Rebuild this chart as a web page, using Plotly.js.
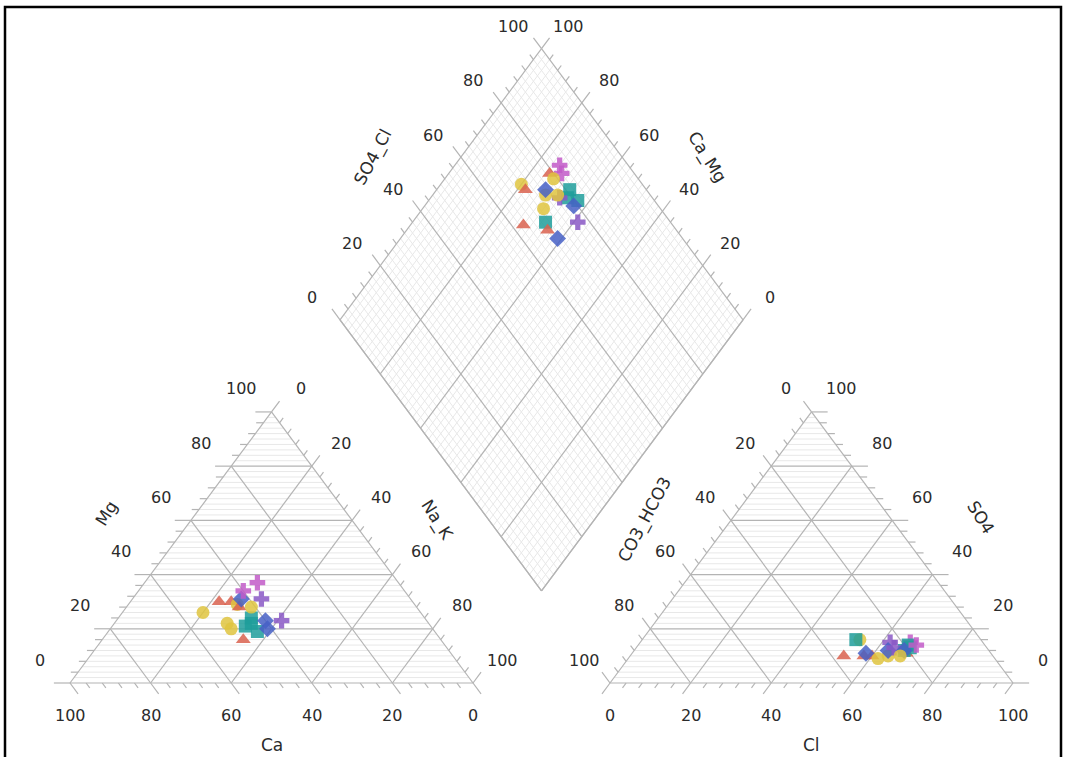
<!DOCTYPE html>
<html><head><meta charset="utf-8">
<script src="https://cdn.plot.ly/plotly-3.0.1.min.js"></script>
<style>html,body{margin:0;padding:0;background:#fff}#chart{width:1067px;height:757px}</style>
</head><body><div id="chart"></div>
<script>
// ---------------- DATA (milliequivalent percentages) ----------------
const sampleIds = ['S1','S2','S3','S4','S5','S6','S7','S8','S9','S10','S11','S12','S13','S14','S15','S16','S17','S18','S19','S20'];
const ca      = [35,45,44,54,48,44,46,44,44,50,50,43,36,49,41,42,37,40,40,41];
const mg      = [37,30,29,26,30,28,21,22,19,22,20,24,23,16,20,31,31,23,34,28];
const naK     = [28,25,27,20,22,28,33,34,37,28,30,33,41,35,39,27,32,37,26,31];
const co3Hco3 = [18,21,21,30,30,37,19,21,19,26,29,31,23,32,31,25,23,21,17,23];
const so4     = [15,11,12,16,10,10,13,12,14,10, 9,16,15,10,11,12,13,12,14,10];
const cl      = [67,68,67,54,60,53,68,67,67,64,62,53,62,58,58,63,64,67,69,67];
const sampleGroup = [5,0,1,1,0,0,2,2,2,1,1,2,4,0,3,3,4,3,5,1];
const groupNames = ['Group 1','Group 2','Group 3','Group 4','Group 5','Group 6'];
const tickValues = [0,20,40,60,80,100];

// ---------------- STYLE ----------------
const groupSymbols = ['triangle-up','circle','square','diamond','cross','cross'];
const groupColors  = ['#d9624f','#dfc43f','#1f9d9b','#4760c6','#8a58c6','#c25ac8'];
const FONT = 'DejaVu Sans';
const TXT = '#2b2b2b';
const MAJ = '#b4b4b4', MIN = '#e8e8e8';

// ---------------- GEOMETRY ----------------
const H = Math.sqrt(3)/2;
const G = 0.34;            // gap between triangles (side = 1)
const OX = 1 + G;          // x offset of anion triangle
const B = [1 + G/2, H*G];  // bottom vertex of diamond
function cat(mgF, nakF){ return [nakF + 0.5*mgF, H*mgF]; }
function an(so4F, clF){ return [OX + clF + 0.5*so4F, H*so4F]; }
function dia(s, c){ return [B[0] + 0.5*s - 0.5*c, B[1] + H*(s + c)]; }

const seg = {maj:{x:[],y:[]}, min:{x:[],y:[]}};
function addSeg(kind, p, q){ seg[kind].x.push(p[0], q[0], null); seg[kind].y.push(p[1], q[1], null); }
function norm(d){ const l = Math.hypot(d[0], d[1]); return [d[0]/l, d[1]/l]; }

function family(A, E, d, opts){
  const dn = norm(d);
  for (let i = 0; i <= 50; i++){
    const k = i/50;
    const a = A(k), e = E(k);
    const isMaj = (i % 10 === 0);
    if (isMaj){
      if (i < 50 || opts.lastLine) addSeg('maj', a, e);
      addSeg('maj', [a[0]-opts.ext*dn[0], a[1]-opts.ext*dn[1]], a);
    } else {
      if (opts.minor) addSeg('min', a, e);
      if (i % 2 === 0) addSeg('maj', [a[0]-0.018*dn[0], a[1]-0.018*dn[1]], a);
    }
  }
}
const EXT = 0.04;
// cation triangle
family(k=>cat(k,0), k=>cat(k,1-k), [1,0], {ext:EXT, minor:true});          // Mg
family(k=>cat(0,1-k), k=>cat(1-k,0), [-0.5,H], {ext:EXT, minor:false});   // Ca
family(k=>cat(1-k,k), k=>cat(0,k), [-0.5,-H], {ext:EXT, minor:false});    // Na_K
// anion triangle
family(k=>an(k,1-k), k=>an(k,0), [-1,0], {ext:EXT, minor:true});          // SO4
family(k=>an(0,k), k=>an(1-k,k), [0.5,H], {ext:EXT, minor:false});        // Cl
family(k=>an(1-k,0), k=>an(0,1-k), [0.5,-H], {ext:EXT, minor:false});     // CO3_HCO3
// diamond
family(k=>dia(k,1), k=>dia(k,0), [0.5,-H], {ext:EXT, minor:true, lastLine:true});  // SO4_Cl
family(k=>dia(1,k), k=>dia(0,k), [-0.5,-H], {ext:EXT, minor:true, lastLine:true}); // Ca_Mg
addSeg('maj', dia(0,0), dia(1,0)); addSeg('maj', dia(0,0), dia(0,1));

const traces = [
  {x:seg.min.x, y:seg.min.y, mode:'lines', line:{color:MIN, width:1}, hoverinfo:'skip', type:'scatter'},
  {x:seg.maj.x, y:seg.maj.y, mode:'lines', line:{color:MAJ, width:1.2}, hoverinfo:'skip', type:'scatter'}
];

sampleIds.forEach((id, i) => {
  const cs = ca[i] + mg[i] + naK[i], as = co3Hco3[i] + so4[i] + cl[i];
  const pc = cat(mg[i]/cs, naK[i]/cs);
  const pa = an(so4[i]/as, cl[i]/as);
  const pd = dia((so4[i] + cl[i])/as, (ca[i] + mg[i])/cs);
  const g = sampleGroup[i];
  traces.push({
    type:'scatter', mode:'markers', name:id + ' (' + groupNames[g] + ')',
    x:[pc[0], pa[0], pd[0]], y:[pc[1], pa[1], pd[1]],
    marker:{symbol:groupSymbols[g], color:groupColors[g], size:13, opacity:0.85, line:{width:0}}
  });
});

// ---------------- LABELS ----------------
const ann = [];
function lab(p, text, xs, ys, extra){
  ann.push(Object.assign({x:p[0], y:p[1], xref:'x', yref:'y', text:String(text), showarrow:false,
    xshift:xs, yshift:ys, font:{family:FONT, size:16, color:TXT}}, extra||{}));
}
tickValues.forEach(v => {
  const k = v/100;
  lab(cat(0,1-k), v, 0, -32);          // Ca (base)
  lab(cat(k,0), v, -30, 23);           // Mg (left edge)
  lab(cat(1-k,k), v, 29, 23);          // Na_K (right edge)
  lab(an(0,k), v, 0, -32);             // Cl (base)
  lab(an(k,1-k), v, 30, 23);           // SO4 (right edge)
  lab(an(1-k,0), v, -26, 23);          // CO3_HCO3 (left edge)
  lab(dia(k,1), v, -28, 22);           // SO4_Cl
  lab(dia(1,k), v, 27, 22);            // Ca_Mg
});
const tf = {family:FONT, size:17, color:TXT};
lab(cat(0,0.5), 'Ca', 0, -62, {font:tf});
lab(cat(0.5,0), 'Mg', -64, 34, {font:tf, textangle:-58});
lab(cat(0.5,0.5), 'Na_K', 65, 27, {font:tf, textangle:58});
lab(an(0,0.5), 'Cl', 0, -62, {font:tf});
lab(an(0.5,0), 'CO3_HCO3', -66, 28, {font:tf, textangle:-62});
lab(an(0.5,0.5), 'SO4', 68, 30, {font:tf, textangle:58});
lab(dia(0.5,1), 'SO4_Cl', -68, 27, {font:tf, textangle:-62});
lab(dia(1,0.5), 'Ca_Mg', 65, 27, {font:tf, textangle:58});

const layout = {
  width:1067, height:757, margin:{l:0, r:0, t:0, b:0},
  paper_bgcolor:'#ffffff', plot_bgcolor:'#ffffff', showlegend:false,
  xaxis:{range:[-70/403, (1067-70)/403], visible:false, fixedrange:true},
  yaxis:{range:[(683-757)/313, 683/313], visible:false, fixedrange:true},
  annotations:ann,
  shapes:[{type:'rect', xref:'paper', yref:'paper', x0:5/1067, x1:1061/1067, y0:-0.05, y1:1-7/757,
           line:{color:'#000', width:2.5}, fillcolor:'rgba(0,0,0,0)'}]
};
Plotly.newPlot('chart', traces, layout, {staticPlot:true, displayModeBar:false});
</script></body></html>
